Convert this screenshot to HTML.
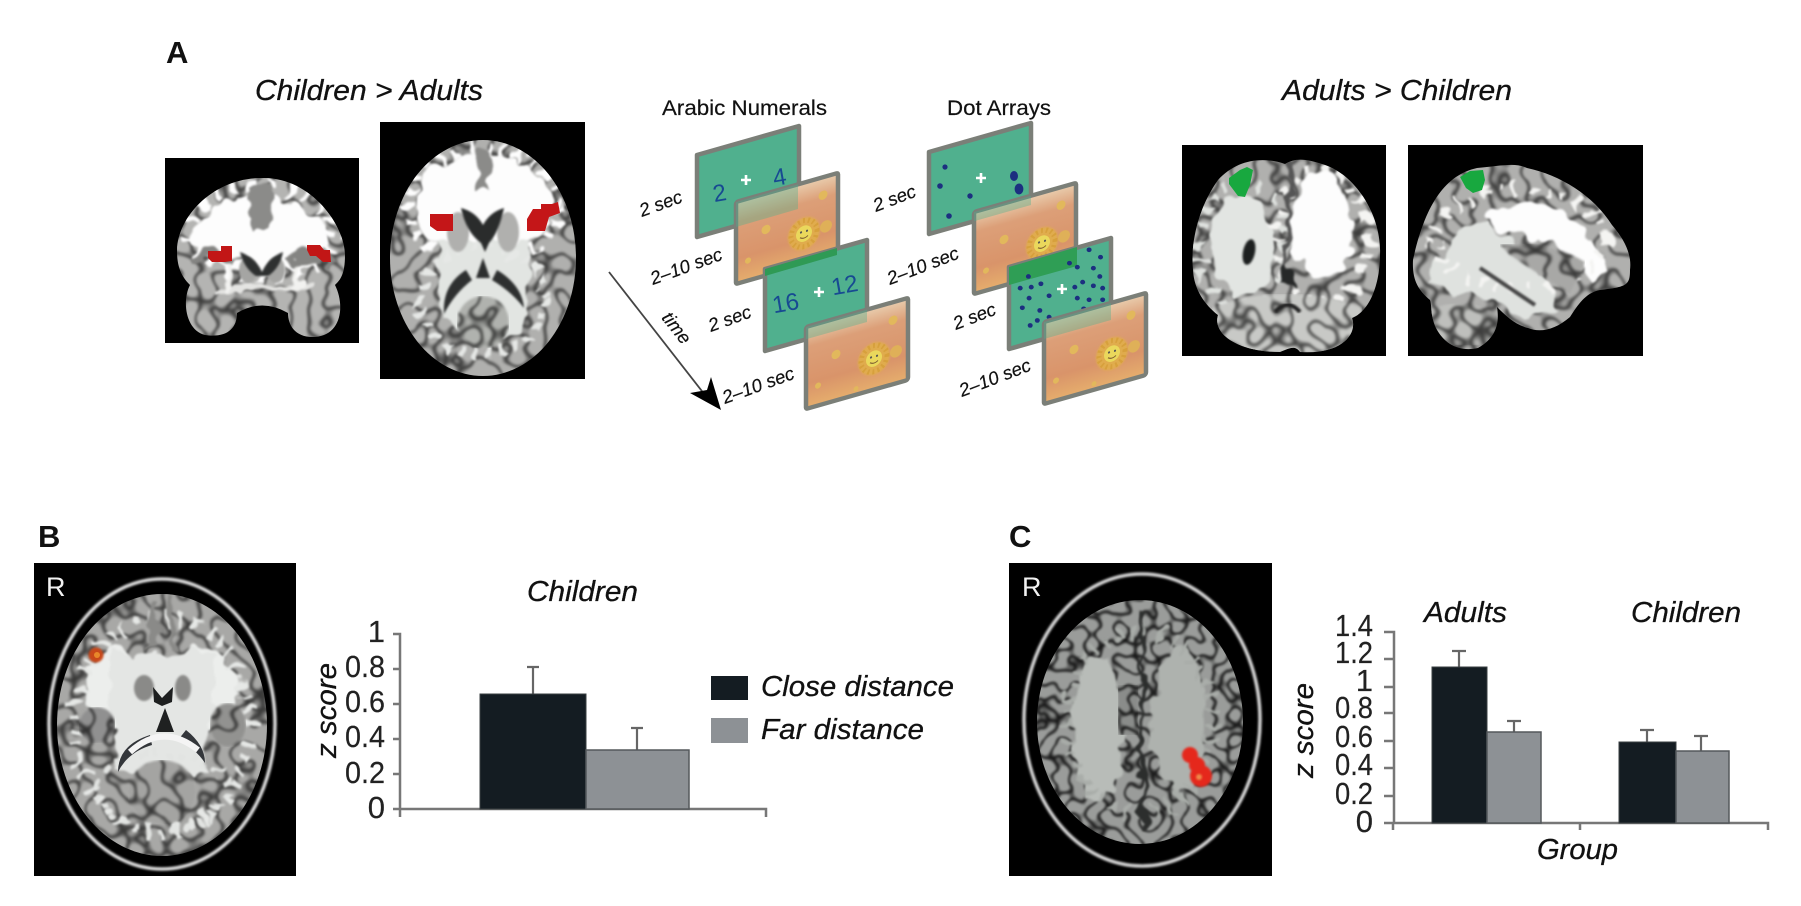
<!DOCTYPE html>
<html>
<head>
<meta charset="utf-8">
<style>
html,body{margin:0;padding:0;background:#fff}
svg{display:block}
text{font-family:"Liberation Sans",sans-serif}
.i{font-style:italic;fill:#111;stroke:#111;stroke-width:.3}
.s{font-style:italic;font-size:18.5px;fill:#111;stroke:#111;stroke-width:.2}
.h{font-size:31px;font-weight:bold;fill:#111}
.n{font-size:31px;fill:#222;stroke:#222;stroke-width:.2}
.d{font-size:24px;fill:#174a92;text-anchor:middle}
.ax{stroke:#777;stroke-width:2.5;fill:none}
.er{stroke:#666;stroke-width:2.2;fill:none}
</style>
</head>
<body>
<svg width="1801" height="906" viewBox="0 0 1801 906" xmlns="http://www.w3.org/2000/svg" color-interpolation-filters="sRGB">
<defs>
<filter id="w" x="-15%" y="-15%" width="130%" height="130%" color-interpolation-filters="sRGB">
  <feTurbulence type="fractalNoise" baseFrequency=".05" numOctaves="2" seed="4"/>
  <feDisplacementMap in="SourceGraphic" scale="24" xChannelSelector="R" yChannelSelector="G"/>
  <feGaussianBlur stdDeviation="1.1"/>
</filter>
<filter id="gy" x="0" y="0" width="100%" height="100%" color-interpolation-filters="sRGB">
  <feTurbulence type="turbulence" baseFrequency=".055" numOctaves="1" seed="9" result="n"/>
  <feColorMatrix in="n" type="matrix" values="0 0 0 4.5 .32  0 0 0 4.5 .32  0 0 0 4.5 .32  0 0 0 0 1" result="g"/>
  <feBlend in="g" in2="SourceGraphic" mode="multiply" result="m"/>
  <feComposite in="m" in2="SourceAlpha" operator="in"/>
  <feGaussianBlur stdDeviation="1.2"/>
</filter>
<filter id="gy2" x="0" y="0" width="100%" height="100%" color-interpolation-filters="sRGB">
  <feTurbulence type="turbulence" baseFrequency=".07" numOctaves="1" seed="5" result="n"/>
  <feColorMatrix in="n" type="matrix" values="0 0 0 5 .12  0 0 0 5 .12  0 0 0 5 .12  0 0 0 0 1" result="g"/>
  <feBlend in="g" in2="SourceGraphic" mode="multiply" result="m"/>
  <feComposite in="m" in2="SourceAlpha" operator="in"/>
  <feGaussianBlur stdDeviation="1"/>
</filter>
<filter id="b1" x="-20%" y="-20%" width="140%" height="140%" color-interpolation-filters="sRGB"><feGaussianBlur stdDeviation="1"/></filter>
<linearGradient id="og" x1="0" y1="0" x2="0" y2="1">
  <stop offset="0" stop-color="#e9cdae"/><stop offset=".25" stop-color="#dc9f78"/><stop offset=".7" stop-color="#d9946a"/><stop offset="1" stop-color="#e6ae6c"/>
</linearGradient>
<g id="gp"><path d="M0 0L102 -29V53L0 82Z" fill="#50b08e" stroke="#7b7f78" stroke-width="4.5" stroke-linejoin="round"/></g>
<g id="op"><g transform="matrix(1 -.285 0 1 0 0)">
  <rect x="0" y="0" width="102" height="82" rx="2" fill="url(#og)" stroke="#7b7f78" stroke-width="4.5" stroke-linejoin="round"/>
  <circle cx="68" cy="51" r="16" fill="#e2b048" opacity=".85" filter="url(#b1)"/>
  <circle cx="68" cy="51" r="13" fill="none" stroke="#d7a03c" stroke-width="5" stroke-dasharray="2 3"/>
  <circle cx="68" cy="51" r="8" fill="#ead85c"/>
  <circle cx="65" cy="49" r="1.1" fill="#555"/><circle cx="71" cy="49" r="1.1" fill="#555"/>
  <path d="M64 54q4 3 8 0" stroke="#7a5a30" fill="none"/>
  <circle cx="30" cy="36" r="4.5" fill="#e2b85c"/><circle cx="87" cy="18" r="4.5" fill="#e2b85c"/><circle cx="12" cy="62" r="3" fill="#e2b85c"/><circle cx="90" cy="50" r="6" fill="#dfb058"/><circle cx="50" cy="76" r="2.5" fill="#e2b85c"/>
</g></g>

<clipPath id="cA1"><path d="M261 178C310 176 345 225 345 255C345 275 340 280 335 285C345 305 342 335 315 337C295 338 288 325 288 313Q262 298 237 313C237 330 225 338 205 335C185 330 182 300 190 285C180 275 177 265 177 250C178 215 215 178 261 178Z"/></clipPath>
<clipPath id="cA2"><ellipse cx="483" cy="258" rx="93" ry="118"/></clipPath>
<clipPath id="cR1"><path d="M1285 164C1262 156 1236 160 1218 180C1200 205 1190 240 1193 270C1194 290 1205 305 1218 315C1212 335 1240 352 1280 352C1290 348 1295 345 1300 352C1340 355 1358 335 1352 318C1372 310 1380 280 1380 255C1382 215 1355 175 1325 165C1305 158 1295 158 1285 164Z"/></clipPath>
<clipPath id="cR2"><path d="M1413 260C1425 205 1445 175 1477 168C1500 166 1515 162 1527 168C1560 175 1593 195 1612 225C1625 240 1632 255 1630 270C1630 285 1627 287 1600 290C1585 293 1578 305 1570 317C1555 330 1540 333 1528 328C1515 325 1505 315 1497 307C1500 325 1495 338 1478 348C1460 352 1445 345 1436 328C1430 315 1432 305 1430 300C1418 290 1412 280 1413 260Z"/></clipPath>
<clipPath id="cB"><ellipse cx="162" cy="725" rx="105" ry="131"/></clipPath>
<clipPath id="cC"><ellipse cx="1140" cy="722" rx="103" ry="122"/></clipPath>
</defs>

<rect width="1801" height="906" fill="#fff"/>

<!-- Panel A headings -->
<text x="166" y="63" class="h">A</text>
<text x="255" y="100" class="i" font-size="29" textLength="228" lengthAdjust="spacingAndGlyphs">Children &gt; Adults</text>
<text x="662" y="115" font-size="21" fill="#111" stroke="#111" stroke-width=".2" textLength="165" lengthAdjust="spacingAndGlyphs">Arabic Numerals</text>
<text x="947" y="115" font-size="21" fill="#111" stroke="#111" stroke-width=".2" textLength="104" lengthAdjust="spacingAndGlyphs">Dot Arrays</text>
<text x="1282" y="100" class="i" font-size="29" textLength="230" lengthAdjust="spacingAndGlyphs">Adults &gt; Children</text>

<!-- Coronal brain -->
<rect x="165" y="158" width="194" height="185" fill="#000"/>
<g clip-path="url(#cA1)">
  <rect x="170" y="170" width="180" height="175" fill="#b4b4b2" filter="url(#gy)"/>
  <g filter="url(#w)">
    <ellipse cx="261" cy="235" rx="66" ry="38" fill="#fdfdfd"/>
    <ellipse cx="261" cy="232" rx="72" ry="46" fill="none" stroke="#fdfdfd" stroke-width="14" stroke-dasharray="6 12"/>
    <rect x="253" y="190" width="15" height="44" fill="#8b8b89"/>
    <path d="M192 262Q214 246 238 262M285 262Q312 248 335 265" stroke="#848482" stroke-width="9" fill="none"/>
    <path d="M214 290H312" stroke="#e4e4e2" stroke-width="6"/>
    <path d="M232 262L228 292M292 262L298 292" stroke="#f2f2f0" stroke-width="5" fill="none"/>
  </g>
  <ellipse cx="248" cy="270" rx="9" ry="13" fill="#a5a5a3" filter="url(#b1)"/>
  <ellipse cx="276" cy="270" rx="9" ry="13" fill="#a5a5a3" filter="url(#b1)"/>
  <path d="M240 252Q256 258 262 272Q268 258 283 252Q280 268 268 276H256Q244 268 240 252Z" fill="#2e3030" filter="url(#b1)"/>
</g>
<path d="M208 251H221V246H232V261L225 262H212L208 258Z" fill="#c21616"/>
<path d="M307 245H320L324 250H330L331 262H323L316 256H310L307 250Z" fill="#c21616"/>

<!-- Axial brain -->
<rect x="380" y="122" width="205" height="257" fill="#000"/>
<g clip-path="url(#cA2)">
  <rect x="385" y="135" width="196" height="245" fill="#b0b0ae" filter="url(#gy)"/>
  <g filter="url(#w)">
    <ellipse cx="483" cy="205" rx="68" ry="52" fill="#fdfdfd"/>
    <ellipse cx="483" cy="205" rx="76" ry="58" fill="none" stroke="#fdfdfd" stroke-width="12" stroke-dasharray="6 10"/>
    <path d="M435 240L442 322Q483 358 524 322L532 240Z" fill="#e2e5e2"/>
    <ellipse cx="483" cy="300" rx="64" ry="54" fill="none" stroke="#e6e8e6" stroke-width="11" stroke-dasharray="6 8"/>
    <rect x="477" y="150" width="12" height="40" fill="#8b8b89"/>
  </g>
  <ellipse cx="458" cy="232" rx="11" ry="20" fill="#b0b0ae" filter="url(#b1)"/>
  <ellipse cx="508" cy="232" rx="11" ry="20" fill="#b0b0ae" filter="url(#b1)"/>
  <path d="M461 208Q476 212 483 225Q490 212 504 208Q499 232 489 243L485 252L481 243Q466 232 461 208Z" fill="#2a2c2c" filter="url(#b1)"/>
  <path d="M483 258L490 278H476Z" fill="#2c2e2e" filter="url(#b1)"/>
  <path d="M466 270Q442 285 444 314Q454 294 472 280Z" fill="#2e3030" filter="url(#b1)"/>
  <path d="M497 270Q522 285 524 308Q512 292 492 280Z" fill="#2e3030" filter="url(#b1)"/>
  <ellipse cx="483" cy="322" rx="26" ry="26" fill="#b0b2ae" filter="url(#gy)"/>
  <path d="M483 298V348" stroke="#444" stroke-width="3" filter="url(#b1)"/>
</g>
<path d="M430 214H453V231H437L430 226Z" fill="#c41618"/>
<path d="M527 231V219L533 209H541V204H552L558 202L560 213L549 217L545 231Z" fill="#c41618"/>

<!-- Right brains -->
<rect x="1182" y="145" width="204" height="211" fill="#000"/>
<g clip-path="url(#cR1)">
  <rect x="1186" y="150" width="198" height="205" fill="#b0b0ae" filter="url(#gy)"/>
  <g filter="url(#w)">
    <ellipse cx="1322" cy="225" rx="32" ry="52" fill="#fdfdfd"/>
    <ellipse cx="1322" cy="235" rx="46" ry="68" fill="none" stroke="#f4f4f2" stroke-width="12" stroke-dasharray="6 11"/>
    <ellipse cx="1242" cy="245" rx="32" ry="50" fill="#e2e5e2"/>
    <ellipse cx="1242" cy="245" rx="44" ry="64" fill="none" stroke="#dfe2df" stroke-width="12" stroke-dasharray="6 11"/>
    <path d="M1288 160V275" stroke="#555" stroke-width="5"/>
    <path d="M1280 285Q1288 250 1296 285Z" fill="#262828"/>
  </g>
  <path d="M1212 308Q1285 280 1362 308L1352 352H1222Z" fill="#c8c9c6" filter="url(#gy)"/>
  <path d="M1275 312Q1288 298 1300 312" stroke="#222" stroke-width="4" fill="none" filter="url(#b1)"/>
  <ellipse cx="1249" cy="252" rx="6" ry="13" fill="#1d2020" filter="url(#b1)" transform="rotate(12 1249 252)"/>
</g>
<path d="M1229 178L1240 170L1247 167L1253 170L1250 185L1245 197L1238 196L1229 184Z" fill="#18a83f"/>
<rect x="1408" y="145" width="235" height="211" fill="#000"/>
<g clip-path="url(#cR2)">
  <rect x="1410" y="160" width="225" height="195" fill="#b0b0ae" filter="url(#gy)"/>
  <g filter="url(#w)">
    <path d="M1490 210Q1550 190 1600 250Q1620 275 1590 278Q1560 240 1510 232Q1480 225 1490 210Z" fill="#fdfdfd"/>
    <path d="M1430 285Q1440 225 1490 225Q1530 250 1560 310L1530 320Q1480 290 1450 295Z" fill="#dfe2df"/>
    <ellipse cx="1520" cy="238" rx="86" ry="50" fill="none" stroke="#f4f4f2" stroke-width="11" stroke-dasharray="5 11"/>
  </g>
  <path d="M1500 245Q1550 240 1585 262L1570 295L1510 255Z" fill="#a8a8a6" filter="url(#gy)"/>
  <path d="M1480 268L1535 305" stroke="#444" stroke-width="4" filter="url(#b1)"/>
  <path d="M1430 310Q1465 295 1495 315L1490 345H1440Z" fill="#bebfbc" filter="url(#gy)"/>
</g>
<path d="M1460 177L1470 171L1483 170L1485 180L1482 190L1473 193L1466 188Z" fill="#18a83f"/>

<!-- Arabic numerals stack -->
<use href="#gp" x="697" y="155"/>
<text class="d" transform="translate(721 201) rotate(-10)">2</text>
<use href="#op" x="736" y="202"/>
<path d="M736 202L798 184.3V209L736 227Z" fill="#50b08e" opacity=".38"/>
<path d="M741 180h10M746 175v10" stroke="#fff" stroke-width="2.6"/>
<text class="d" transform="translate(781 185) rotate(-10)">4</text>
<use href="#gp" x="765" y="269"/>
<path d="M765 269L837 248V255L765 276Z" fill="#2f9a55"/>
<text class="d" transform="translate(787 311) rotate(-10)">16</text>
<path d="M814 292h10M819 287v10" stroke="#fff" stroke-width="2.6"/>
<text class="d" transform="translate(846 293) rotate(-10)">12</text>
<use href="#op" x="806" y="327"/>
<path d="M806 327L867 309.6V322L806 339.3Z" fill="#50b08e" opacity=".38"/>

<!-- Dot arrays stack -->
<use href="#gp" x="929" y="152"/>
<g fill="#1c2f80">
  <circle cx="945" cy="167" r="2.6"/><circle cx="940" cy="186" r="2.8"/><circle cx="970" cy="196" r="2.7"/><circle cx="949" cy="216" r="2.8"/>
  <ellipse cx="1014" cy="176" rx="4" ry="5"/><ellipse cx="1019" cy="189" rx="4.4" ry="5.5"/>
</g>
<path d="M976 178h10M981 173v10" stroke="#fff" stroke-width="2.6"/>
<use href="#op" x="974" y="212"/>
<path d="M974 212L1031 195.8V205L974 221.2Z" fill="#50b08e" opacity=".38"/>
<use href="#gp" x="1009" y="267"/>
<path d="M1009 267L1077 247V266L1009 285Z" fill="#2f9e55"/>
<g transform="translate(600 80) scale(.357 .333)" fill="#1c2f80">
  <circle cx="1370" cy="510" r="7"/><circle cx="1402" cy="532" r="7"/><circle cx="1315" cy="550" r="7"/><circle cx="1337" cy="562" r="7"/><circle cx="1382" cy="565" r="7"/><circle cx="1400" cy="590" r="7"/><circle cx="1200" cy="590" r="7"/><circle cx="1177" cy="625" r="7"/><circle cx="1208" cy="622" r="7"/><circle cx="1235" cy="612" r="7"/><circle cx="1330" cy="622" r="7"/><circle cx="1352" cy="607" r="7"/><circle cx="1382" cy="618" r="7"/><circle cx="1408" cy="625" r="7"/><circle cx="1258" cy="648" r="7"/><circle cx="1202" cy="655" r="7"/><circle cx="1337" cy="655" r="7"/><circle cx="1370" cy="660" r="7"/><circle cx="1408" cy="660" r="7"/><circle cx="1183" cy="684" r="7"/><circle cx="1232" cy="692" r="7"/><circle cx="1355" cy="687" r="7"/><circle cx="1402" cy="693" r="7"/><circle cx="1258" cy="712" r="7"/><circle cx="1225" cy="722" r="7"/><circle cx="1205" cy="737" r="7"/>
</g>
<path d="M1057 289h10M1062 284v10" stroke="#fff" stroke-width="2.6"/>
<use href="#op" x="1044" y="322"/>
<path d="M1044 322L1111 303V320L1044 339Z" fill="#50b08e" opacity=".38"/>

<!-- Timing labels -->
<text class="s" transform="translate(642 217) rotate(-20)">2 sec</text>
<text class="s" transform="translate(653 285) rotate(-20)">2–10 sec</text>
<text class="s" transform="translate(711 332) rotate(-20)">2 sec</text>
<text class="s" transform="translate(725 404) rotate(-20)">2–10 sec</text>
<text class="s" transform="translate(876 212) rotate(-21)">2 sec</text>
<text class="s" transform="translate(890 285) rotate(-21)">2–10 sec</text>
<text class="s" transform="translate(956 330) rotate(-21)">2 sec</text>
<text class="s" transform="translate(962 397) rotate(-21)">2–10 sec</text>
<text class="s" transform="translate(661 318) rotate(52)">time</text>
<path d="M609 272L712 404" stroke="#444" stroke-width="1.8"/>
<path d="M721 410L690 393L707 390L711 377Z" fill="#000"/>

<!-- Panel B -->
<text x="38" y="547" class="h">B</text>
<rect x="34" y="563" width="262" height="313" fill="#000"/>
<ellipse cx="162" cy="724" rx="113" ry="145" fill="none" stroke="#dcdcdc" stroke-width="3.5" filter="url(#b1)"/>
<g clip-path="url(#cB)">
  <rect x="50" y="590" width="225" height="270" fill="#a8a8a6" filter="url(#gy)"/>
  <g filter="url(#w)">
    <ellipse cx="118" cy="690" rx="34" ry="40" fill="#eceeec"/>
    <ellipse cx="205" cy="690" rx="34" ry="40" fill="#eceeec"/>
    <path d="M108 655L216 655L208 775H118Z" fill="#e4e6e4"/>
    <ellipse cx="162" cy="725" rx="88" ry="108" fill="none" stroke="#e6e8e6" stroke-width="14" stroke-dasharray="5 10"/>
    <ellipse cx="162" cy="792" rx="64" ry="38" fill="none" stroke="#e2e4e2" stroke-width="9" stroke-dasharray="6 7"/>
    <path d="M154 602L154 650M170 602L170 650" stroke="#8a8a88" stroke-width="6"/>
  </g>
  <ellipse cx="97" cy="725" rx="18" ry="18" fill="#909090" filter="url(#gy)"/>
  <ellipse cx="228" cy="725" rx="18" ry="22" fill="#929290" filter="url(#gy)"/>
  <ellipse cx="144" cy="688" rx="10" ry="13" fill="#8a8a88" filter="url(#b1)"/>
  <ellipse cx="183" cy="688" rx="8" ry="13" fill="#8a8a88" filter="url(#b1)"/>
  <path d="M153 687L162 698L173 687L172 702L162 706L154 702Z" fill="#1d1f1f"/>
  <path d="M165 708L174 732H156Z" fill="#1f2121"/>
  <path d="M150 735Q118 745 118 772Q128 752 152 745Z" fill="#33363a"/>
  <path d="M186 730Q205 745 205 763Q195 748 178 740Z" fill="#33363a"/>
  <path d="M130 752Q163 722 198 750" stroke="#f4f4f4" stroke-width="6" fill="none"/>
  <ellipse cx="162" cy="792" rx="34" ry="32" fill="#a4a4a2" filter="url(#gy)"/>
</g>
<circle cx="96" cy="655" r="7.5" fill="#c8481a" filter="url(#b1)"/>
<circle cx="97" cy="655" r="3" fill="#e8882a"/>
<text x="46" y="596" font-size="27" fill="#f2f2f2">R</text>

<!-- Chart B -->
<text x="527" y="601" class="i" font-size="29" textLength="111" lengthAdjust="spacingAndGlyphs">Children</text>
<text x="385" y="642" text-anchor="end" class="n">1</text>
<text x="385" y="677" text-anchor="end" class="n" textLength="40" lengthAdjust="spacingAndGlyphs">0.8</text>
<text x="385" y="712" text-anchor="end" class="n" textLength="40" lengthAdjust="spacingAndGlyphs">0.6</text>
<text x="385" y="747" text-anchor="end" class="n" textLength="40" lengthAdjust="spacingAndGlyphs">0.4</text>
<text x="385" y="783" text-anchor="end" class="n" textLength="40" lengthAdjust="spacingAndGlyphs">0.2</text>
<text x="385" y="818" text-anchor="end" class="n">0</text>
<text transform="translate(336 758) rotate(-90)" class="i" font-size="29" textLength="95" lengthAdjust="spacingAndGlyphs">z score</text>
<path class="ax" d="M393 634H400V809M393 669H400M393 704H400M393 739H400M393 774H400M393 809H766V817M400 809V817"/>
<path class="er" d="M533 694V667M527 667H539M637 750V728M631 728H643"/>
<rect x="480" y="694" width="106" height="115" fill="#141c22" stroke="#3a3f42" stroke-width="1"/>
<rect x="586" y="750" width="103" height="59" fill="#8d9195" stroke="#55595c" stroke-width="1.5"/>
<rect x="711" y="676" width="37" height="24" fill="#141c22"/>
<rect x="711" y="718" width="37" height="25" fill="#8d9195"/>
<text x="761" y="696" class="i" font-size="29" textLength="193" lengthAdjust="spacingAndGlyphs">Close distance</text>
<text x="761" y="739" class="i" font-size="29" textLength="163" lengthAdjust="spacingAndGlyphs">Far distance</text>

<!-- Panel C -->
<text x="1009" y="547" class="h">C</text>
<rect x="1009" y="563" width="263" height="313" fill="#000"/>
<ellipse cx="1142" cy="720" rx="118" ry="146" fill="none" stroke="#d4d4d4" stroke-width="3.5" filter="url(#b1)"/>
<g clip-path="url(#cC)">
  <rect x="1030" y="595" width="220" height="255" fill="#9a9c9a" filter="url(#gy2)"/>
  <g filter="url(#w)">
    <ellipse cx="1098" cy="730" rx="26" ry="72" fill="#b8bcb8"/>
    <ellipse cx="1180" cy="720" rx="26" ry="74" fill="#aeb2ae"/>
    <ellipse cx="1140" cy="722" rx="74" ry="90" fill="none" stroke="#a9ada9" stroke-width="14" stroke-dasharray="4 10"/>
    <path d="M1143 610V835" stroke="#2c2e2d" stroke-width="5"/>
  </g>
  <rect x="1118" y="685" width="20" height="50" fill="#8a8c8a" filter="url(#gy2)"/>
</g>
<g fill="#e5281c" filter="url(#b1)">
  <circle cx="1190" cy="755" r="8"/><circle cx="1197" cy="765" r="8"/><circle cx="1201" cy="776" r="11"/>
</g>
<circle cx="1199" cy="777" r="3" fill="#ef8a4a" filter="url(#b1)"/>
<text x="1022" y="596" font-size="27" fill="#f2f2f2">R</text>

<!-- Chart C -->
<text x="1424" y="622" class="i" font-size="29" textLength="83" lengthAdjust="spacingAndGlyphs">Adults</text>
<text x="1631" y="622" class="i" font-size="29" textLength="110" lengthAdjust="spacingAndGlyphs">Children</text>
<text x="1373" y="636" text-anchor="end" class="n" textLength="38" lengthAdjust="spacingAndGlyphs">1.4</text>
<text x="1373" y="663" text-anchor="end" class="n" textLength="38" lengthAdjust="spacingAndGlyphs">1.2</text>
<text x="1373" y="691" text-anchor="end" class="n">1</text>
<text x="1373" y="718" text-anchor="end" class="n" textLength="38" lengthAdjust="spacingAndGlyphs">0.8</text>
<text x="1373" y="747" text-anchor="end" class="n" textLength="38" lengthAdjust="spacingAndGlyphs">0.6</text>
<text x="1373" y="775" text-anchor="end" class="n" textLength="38" lengthAdjust="spacingAndGlyphs">0.4</text>
<text x="1373" y="804" text-anchor="end" class="n" textLength="38" lengthAdjust="spacingAndGlyphs">0.2</text>
<text x="1373" y="832" text-anchor="end" class="n">0</text>
<text transform="translate(1313 778) rotate(-90)" class="i" font-size="29" textLength="95" lengthAdjust="spacingAndGlyphs">z score</text>
<path class="ax" d="M1384 632H1394V823M1384 659H1394M1384 687H1394M1384 713H1394M1384 741H1394M1384 768H1394M1384 796H1394M1384 823H1768V830M1393 823V830M1580 823V830"/>
<path class="er" d="M1459 667V651M1452 651H1466M1514 732V721M1507 721H1521M1647 742V730M1640 730H1654M1701 751V736M1694 736H1708"/>
<rect x="1432" y="667" width="55" height="156" fill="#141c22" stroke="#3a3f42" stroke-width="1"/>
<rect x="1487" y="732" width="54" height="91" fill="#8d9195" stroke="#55595c" stroke-width="1.5"/>
<rect x="1619" y="742" width="57" height="81" fill="#141c22" stroke="#3a3f42" stroke-width="1"/>
<rect x="1676" y="751" width="53" height="72" fill="#8d9195" stroke="#55595c" stroke-width="1.5"/>
<text x="1537" y="859" class="i" font-size="29" textLength="81" lengthAdjust="spacingAndGlyphs">Group</text>
</svg>
</body>
</html>
